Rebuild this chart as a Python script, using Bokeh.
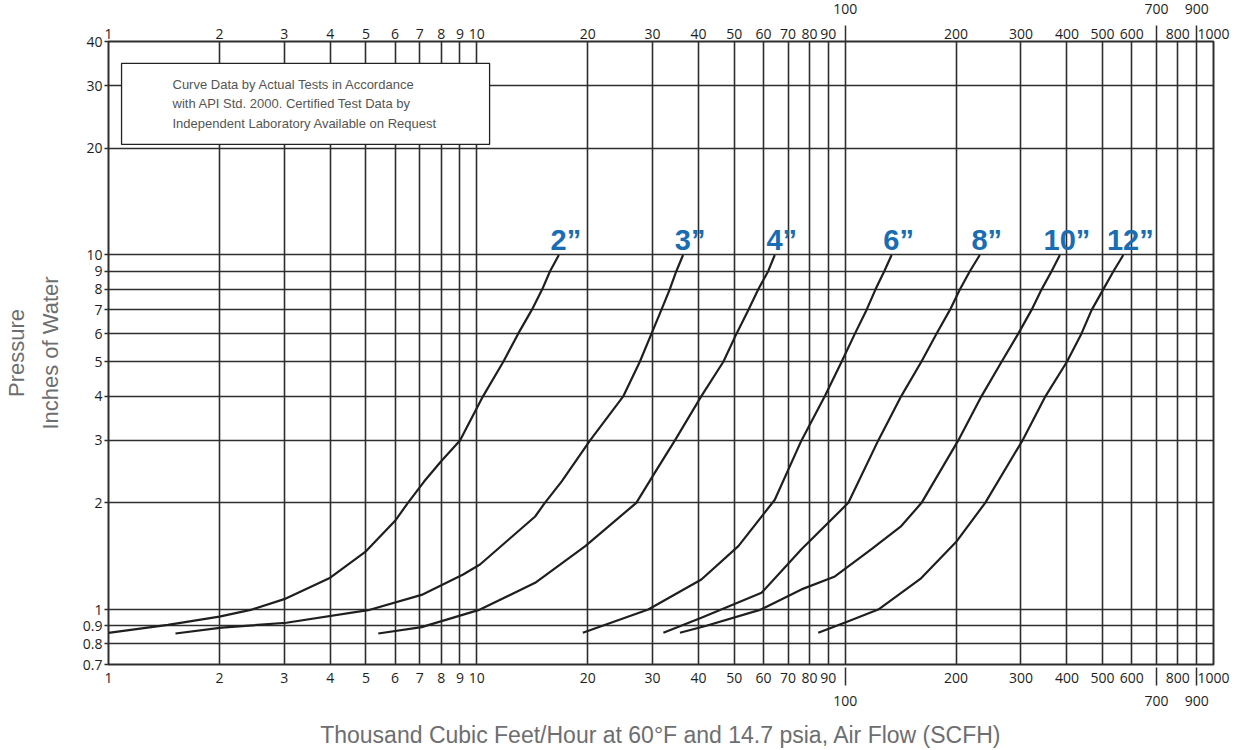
from bokeh.plotting import figure
from bokeh.models import LogAxis, FixedTicker, BoxAnnotation, Label, ColumnDataSource, Range1d
from bokeh.core.properties import value
from bokeh.embed import file_html
from bokeh.resources import INLINE

# ---------------- data ----------------
x_grid_values = [1, 2, 3, 4, 5, 6, 7, 8, 9, 10, 20, 30, 40, 50, 60, 70, 80, 90,
                 100, 200, 300, 400, 500, 600, 700, 800, 900, 1000]
x_labels_row1 = ["1", "2", "3", "4", "5", "6", "7", "8", "9", "10", "20", "30", "40", "50",
                 "60", "70", "80", "90", "", "200", "300", "400", "500", "600", "", "800", "", "1000"]
x_values_row2 = [100, 700, 900]
x_labels_row2 = ["100", "700", "900"]
y_grid_values = [0.7, 0.8, 0.9, 1, 2, 3, 4, 5, 6, 7, 8, 9, 10, 20, 30, 40]
y_labels = ["0.7", "0.8", "0.9", "1", "2", "3", "4", "5", "6", "7", "8", "9", "10", "20", "30", "40"]

pipe_sizes = ["2\u201d", "3\u201d", "4\u201d", "6\u201d", "8\u201d", "10\u201d", "12\u201d"]

flow_2in = [1.0, 1.45, 2.0, 2.45, 3.0, 4.0, 5.0, 6.0, 6.5, 7.2, 8.0, 9.0, 10.4, 11.8, 12.95, 14.1, 15.05, 15.8, 16.7]
press_2in = [0.86, 0.905, 0.955, 1.0, 1.07, 1.23, 1.46, 1.78, 2.0, 2.3, 2.62, 3.0, 4.0, 5.0, 6.0, 7.0, 8.0, 9.0, 10.0]

flow_3in = [1.52, 2.03, 3.04, 5.07, 7.08, 9.18, 10.2, 14.4, 15.3, 17.0, 20.3, 25.0, 27.7, 29.8, 31.7, 33.4, 34.8, 36.3]
press_3in = [0.856, 0.889, 0.918, 0.996, 1.10, 1.256, 1.34, 1.83, 2.0, 2.3, 3.0, 4.0, 5.0, 6.0, 7.0, 8.0, 9.0, 10.0]

flow_4in = [5.4, 7.08, 10.2, 14.4, 19.7, 27.1, 30.4, 34.5, 40.7, 46.7, 50.7, 54.6, 58.1, 61.8, 64.4]
press_4in = [0.856, 0.892, 1.0, 1.19, 1.51, 2.0, 2.43, 3.0, 4.0, 5.0, 6.0, 7.0, 8.0, 9.0, 10.0]

flow_6in = [19.4, 29.2, 40.7, 51.3, 64.4, 76.1, 88.1, 97.8, 106.3, 114.3, 120.9, 127.7, 133.7]
press_6in = [0.86, 1.0, 1.216, 1.51, 2.04, 3.0, 4.0, 5.0, 6.0, 7.0, 8.0, 9.0, 10.0]

flow_8in = [32.1, 40.7, 59.3, 76.1, 102, 123, 142, 161, 177, 192.5, 205, 218, 232]
press_8in = [0.86, 0.948, 1.115, 1.48, 2.0, 3.0, 4.0, 5.0, 6.0, 7.0, 8.0, 9.0, 10.0]

flow_10in = [35.6, 42, 59, 76.1, 93.8, 117.9, 142, 161.2, 202.8, 234.6, 265.9, 295.1, 320.7, 341.5, 363.4, 382.8]
press_10in = [0.86, 0.9, 1.0, 1.14, 1.24, 1.48, 1.72, 2.0, 3.0, 4.0, 5.0, 6.0, 7.0, 8.0, 9.0, 10.0]

flow_12in = [84.5, 100, 123, 160, 200, 240, 303, 350, 400, 438, 467, 502, 535, 569]
press_12in = [0.86, 0.92, 1.0, 1.22, 1.55, 2.0, 3.0, 4.0, 5.0, 6.0, 7.0, 8.0, 9.0, 10.0]

note_lines = ["Curve Data by Actual Tests in Accordance",
              "with API Std. 2000. Certified Test Data by",
              "Independent Laboratory Available on Request"]

x_title = "Thousand Cubic Feet/Hour at 60\u00b0F and 14.7 psia, Air Flow (SCFH)"
y_title_outer = "Pressure"
y_title_inner = "Inches of Water"

# ---------------- styles ----------------
TICK_FONT = "Open Sans"
TITLE_FONT = "Liberation Sans"
GRID_COLOR = "#2e2e2e"
TITLE_COLOR = "#6d6e71"
BLUE = "#1a6db3"

p = figure(x_axis_type="log", y_axis_type="log",
           x_range=Range1d(1, 1000), y_range=Range1d(0.7, 40),
           frame_width=1105, frame_height=623,
           min_border_left=0, min_border_right=24, min_border_top=0, min_border_bottom=0,
           output_backend="svg", toolbar_location=None,
           background_fill_color="white", border_fill_color="white")

p.outline_line_color = GRID_COLOR
p.outline_line_width = 2
p.outline_line_alpha = 1.0


def style_axis(ax, title_size="22px"):
    ax.axis_line_color = None
    ax.minor_tick_line_color = None
    ax.major_tick_line_color = GRID_COLOR
    ax.major_tick_line_width = 1.5
    ax.major_label_text_font = TICK_FONT
    ax.major_label_text_font_size = "14px"
    ax.major_label_text_color = "#1e1e1e"
    ax.axis_label_text_font = TITLE_FONT
    ax.axis_label_text_font_style = "normal"
    ax.axis_label_text_color = TITLE_COLOR
    ax.axis_label_text_font_size = title_size


# bottom, row 1
b1 = p.xaxis[0]
b1.ticker = FixedTicker(ticks=x_grid_values)
b1.major_label_overrides = dict(zip(x_grid_values, x_labels_row1))
style_axis(b1)
b1.major_tick_in = 0
b1.major_tick_out = 0
b1.major_label_standoff = 8

# bottom, row 2 (staggered labels) + title
b2 = LogAxis(ticker=FixedTicker(ticks=x_values_row2),
             major_label_overrides=dict(zip(x_values_row2, x_labels_row2)))
style_axis(b2, "23px")
b2.major_tick_in = 18
b2.major_tick_out = 0
b2.major_label_standoff = 10
b2.axis_label = x_title
b2.axis_label_standoff = 13
p.add_layout(b2, "below")

# top, row 1
t1 = LogAxis(ticker=FixedTicker(ticks=x_grid_values),
             major_label_overrides=dict(zip(x_grid_values, x_labels_row1)))
style_axis(t1)
t1.major_tick_in = 0
t1.major_tick_out = 0
t1.major_label_standoff = 3
p.add_layout(t1, "above")

# top, row 2
t2 = LogAxis(ticker=FixedTicker(ticks=x_values_row2),
             major_label_overrides=dict(zip(x_values_row2, x_labels_row2)))
style_axis(t2)
t2.major_tick_in = 16
t2.major_tick_out = 0
t2.major_label_standoff = 12
p.add_layout(t2, "above")

# left
l1 = p.yaxis[0]
l1.ticker = FixedTicker(ticks=y_grid_values)
l1.major_label_overrides = dict(zip(y_grid_values, y_labels))
style_axis(l1)
l1.major_tick_in = 0
l1.major_tick_out = 4
l1.major_label_standoff = 2
l1.axis_label = y_title_inner
l1.axis_label_standoff = 17

l2 = LogAxis(ticker=FixedTicker(ticks=[]))
style_axis(l2)
l2.major_tick_line_color = None
l2.axis_label = y_title_outer
l2.axis_label_standoff = 6
p.add_layout(l2, "left")

# grid
p.xgrid.ticker = FixedTicker(ticks=x_grid_values)
p.ygrid.ticker = FixedTicker(ticks=y_grid_values)
p.grid.grid_line_color = GRID_COLOR
p.grid.grid_line_width = 1.6
p.grid.grid_line_alpha = 1.0

# curves
curves = [(flow_2in, press_2in), (flow_3in, press_3in), (flow_4in, press_4in),
          (flow_6in, press_6in), (flow_8in, press_8in), (flow_10in, press_10in),
          (flow_12in, press_12in)]
for fx, py in curves:
    p.line(fx, py, line_color="#1f1f1f", line_width=2.2, line_join="round")

# curve labels at the top end of each curve
label_src = ColumnDataSource(dict(
    x=[c[0][-1] for c in curves],
    y=[c[1][-1] for c in curves],
    text=pipe_sizes,
))
p.text(x="x", y="y", text="text", source=label_src,
       text_font=value(TITLE_FONT), text_font_style="bold",
       text_font_size=value("29px"), text_color=BLUE,
       text_align="center", text_baseline="alphabetic",
       x_offset=7, y_offset=-15)

# note box
p.add_layout(BoxAnnotation(left=1.085, right=10.83, bottom=20.5, top=34.7,
                           fill_color="white", fill_alpha=1.0,
                           line_color="#222222", line_width=1.3, line_alpha=1.0))
for txt, yy in zip(note_lines, [30.26, 26.75, 23.49]):
    p.add_layout(Label(x=1.492, y=yy, text=txt, text_font=TITLE_FONT,
                       text_font_size="13px", text_color="#555555",
                       text_align="left", text_baseline="middle"))

open("out.html", "w").write(file_html(p, INLINE))
